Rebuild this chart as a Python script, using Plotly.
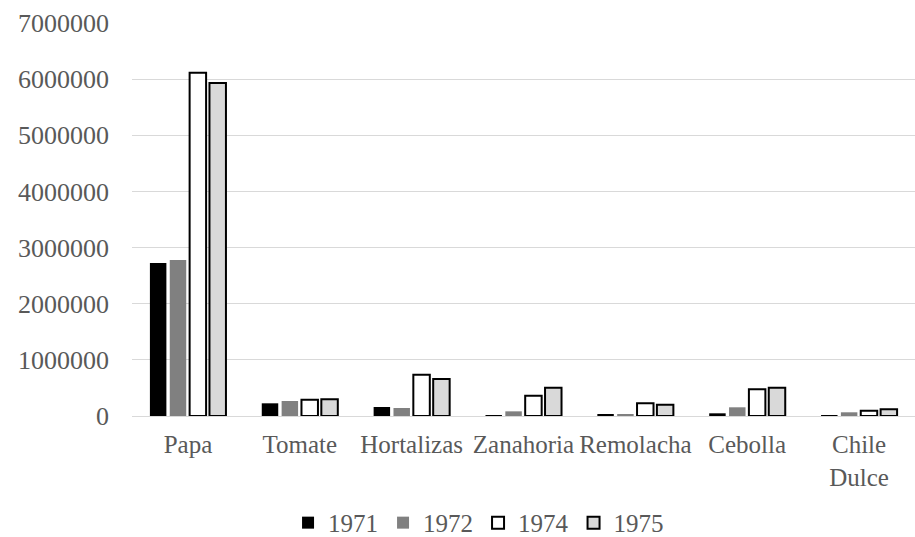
import plotly.graph_objects as go

# Production by crop and year
categories = ["Papa", "Tomate", "Hortalizas", "Zanahoria", "Remolacha", "Cebolla", "Chile<br>Dulce"]
years = ["1971", "1972", "1974", "1975"]
v1971 = [2725000, 226000, 160000, 12000, 30000, 48000, 12000]
v1972 = [2780000, 267000, 143000, 83000, 30000, 155000, 66000]
v1974 = [6115000, 290000, 736000, 360000, 226000, 475000, 94000]
v1975 = [5930000, 297000, 660000, 505000, 200000, 505000, 119000]
ytick_vals = [0, 1000000, 2000000, 3000000, 4000000, 5000000, 6000000, 7000000]

series = [v1971, v1972, v1974, v1975]
fills = ["#000000", "#808080", "#ffffff", "#d9d9d9"]
lines = ["#000000", "#808080", "#000000", "#000000"]
line_w = [0, 0, 2, 2]

fig = go.Figure()
for name, vals, fc, lc, lw in zip(years, series, fills, lines, line_w):
    fig.add_trace(go.Bar(
        x=categories, y=vals, name=name,
        marker=dict(color=fc, line=dict(color=lc, width=lw)),
    ))

font_family = "Liberation Serif"
fig.update_layout(
    width=915, height=537,
    margin=dict(l=132, r=0, t=23, b=121, autoexpand=False),
    paper_bgcolor="white", plot_bgcolor="white",
    barmode="group", bargap=0.29, bargroupgap=0.17,
    font=dict(family=font_family, size=26, color="#595959"),
    showlegend=True,
    legend=dict(orientation="h", x=0.523, xanchor="center", xref="container",
                y=-0.272, yanchor="middle", yref="paper",
                font=dict(size=25, color="#595959"), itemwidth=30, traceorder="normal"),
    xaxis=dict(showgrid=False, showline=True, linecolor="#d9d9d9", linewidth=1,
               ticks="", ticklabelstandoff=6, tickfont=dict(size=25), automargin=False),
    yaxis=dict(range=[0, 7000000], tickvals=ytick_vals, tickformat="d",
               showgrid=True, gridcolor="#d9d9d9", gridwidth=1,
               zeroline=True, zerolinecolor="#d9d9d9", zerolinewidth=1,
               ticks="", ticklabelstandoff=22, tickfont=dict(size=26), automargin=False),
)

fig.write_html("out.html")
